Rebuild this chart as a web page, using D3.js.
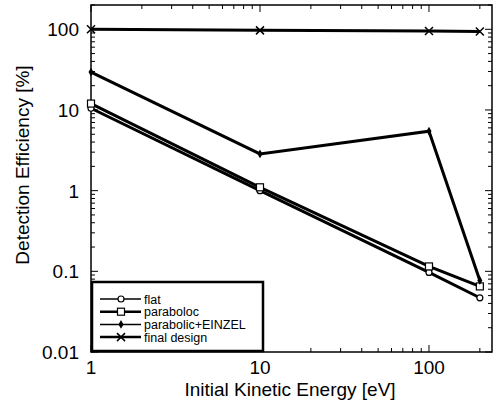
<!DOCTYPE html>
<html>
<head>
<meta charset="utf-8">
<script src="https://cdn.jsdelivr.net/npm/d3@7"></script>
<style>
  body { margin: 0; background: #fff; }
  text { font-family: "Liberation Sans", Arial, sans-serif; fill: #000; }
</style>
</head>
<body>
<div id="chart"></div>
<script>
// chart data
var energies = [1, 10, 100, 200];
var flat = [10.5, 1.0, 0.097, 0.047];
var paraboloc = [12.0, 1.1, 0.115, 0.065];
var einzel = [29.5, 2.85, 5.45, 0.077];
var finalDesign = [100, 97, 95, 94];
var seriesNames = ["flat", "paraboloc", "parabolic+EINZEL", "final design"];
var yTicks = [0.01, 0.1, 1, 10, 100];
var xTicks = [1, 10, 100];

var WIDTH = 498, HEIGHT = 403;
var margin = {left: 91, right: 6, top: 5, bottom: 51};

var svg = d3.select("#chart").append("svg")
    .attr("width", WIDTH)
    .attr("height", HEIGHT);

var x = d3.scaleLog().domain([1, 236]).range([margin.left, WIDTH - margin.right]);
var y = d3.scaleLog().domain([0.01, 200]).range([HEIGHT - margin.bottom, margin.top]);

var x0 = margin.left, x1 = WIDTH - margin.right;
var y0 = HEIGHT - margin.bottom, y1 = margin.top;

// minor ticks for log axes
var xMinor = [], yMinor = [];
[1, 10, 100].forEach(function (d) {
    for (var k = 2; k <= 9; k++) if (d * k <= 236) xMinor.push(d * k);
});
[0.01, 0.1, 1, 10, 100].forEach(function (d) {
    for (var k = 2; k <= 9; k++) if (d * k <= 200) yMinor.push(d * k);
});

// all ticks point inward, on all four sides
var axes = svg.append("g").attr("stroke", "#000").attr("stroke-width", 1);
xTicks.forEach(function (d) {
    axes.append("line").attr("x1", x(d)).attr("x2", x(d)).attr("y1", y0).attr("y2", y0 - 7);
    axes.append("line").attr("x1", x(d)).attr("x2", x(d)).attr("y1", y1).attr("y2", y1 + 7);
});
xMinor.forEach(function (d) {
    axes.append("line").attr("x1", x(d)).attr("x2", x(d)).attr("y1", y0).attr("y2", y0 - 4);
    axes.append("line").attr("x1", x(d)).attr("x2", x(d)).attr("y1", y1).attr("y2", y1 + 4);
});
yTicks.forEach(function (d) {
    axes.append("line").attr("x1", x0).attr("x2", x0 + 7).attr("y1", y(d)).attr("y2", y(d));
    axes.append("line").attr("x1", x1).attr("x2", x1 - 7).attr("y1", y(d)).attr("y2", y(d));
});
yMinor.forEach(function (d) {
    axes.append("line").attr("x1", x0).attr("x2", x0 + 4).attr("y1", y(d)).attr("y2", y(d));
    axes.append("line").attr("x1", x1).attr("x2", x1 - 4).attr("y1", y(d)).attr("y2", y(d));
});

// frame
svg.append("rect")
    .attr("x", x0).attr("y", y1)
    .attr("width", x1 - x0).attr("height", y0 - y1)
    .attr("fill", "none").attr("stroke", "#000").attr("stroke-width", 1.5);

// tick labels
svg.selectAll(".xlab").data(xTicks).enter().append("text")
    .attr("x", function (d) { return x(d); })
    .attr("y", y0 + 22)
    .attr("text-anchor", "middle")
    .attr("font-size", 19)
    .text(function (d) { return d; });

svg.selectAll(".ylab").data(yTicks).enter().append("text")
    .attr("x", x0 - 12)
    .attr("y", function (d) { return y(d) + 7; })
    .attr("text-anchor", "end")
    .attr("font-size", 19)
    .text(function (d) { return d; });

// axis titles
svg.append("text")
    .attr("x", 290).attr("y", 396)
    .attr("text-anchor", "middle")
    .attr("font-size", 19)
    .text("Initial Kinetic Energy [eV]");

svg.append("text")
    .attr("transform", "translate(29,165) rotate(-90)")
    .attr("text-anchor", "middle")
    .attr("font-size", 19)
    .text("Detection Efficiency [%]");

// series
var allSeries = [flat, paraboloc, einzel, finalDesign];
var line = d3.line()
    .x(function (d, i) { return x(energies[i]); })
    .y(function (d) { return y(d); });

var drawMarker = function (g, kind, cx, cy) {
    if (kind === 0) {
        g.append("circle").attr("cx", cx).attr("cy", cy).attr("r", 3)
            .attr("fill", "#fff").attr("stroke", "#000").attr("stroke-width", 1.2);
    } else if (kind === 1) {
        g.append("rect").attr("x", cx - 3.5).attr("y", cy - 3.5).attr("width", 7).attr("height", 7)
            .attr("fill", "#fff").attr("stroke", "#000").attr("stroke-width", 1.2);
    } else if (kind === 2) {
        g.append("path").attr("d", d3.symbol().type(d3.symbolDiamond).size(22)())
            .attr("transform", "translate(" + cx + "," + cy + ")")
            .attr("fill", "#000");
    } else {
        g.append("path")
            .attr("d", "M" + (cx - 4) + "," + (cy - 4) + "L" + (cx + 4) + "," + (cy + 4) +
                       "M" + (cx - 4) + "," + (cy + 4) + "L" + (cx + 4) + "," + (cy - 4))
            .attr("stroke", "#000").attr("stroke-width", 1.5);
    }
};

var plot = svg.append("g");
allSeries.forEach(function (vals, s) {
    plot.append("path")
        .datum(vals)
        .attr("d", line)
        .attr("fill", "none")
        .attr("stroke", "#000")
        .attr("stroke-width", 3);
});
allSeries.forEach(function (vals, s) {
    vals.forEach(function (v, i) {
        drawMarker(plot, s, x(energies[i]), y(v));
    });
});

// legend box
var legend = svg.append("g");
legend.append("rect")
    .attr("x", x0 + 1).attr("y", 282)
    .attr("width", 171).attr("height", y0 - 282 - 1)
    .attr("fill", "#fff").attr("stroke", "#000").attr("stroke-width", 2.5);

seriesNames.forEach(function (name, i) {
    var ly = 299 + i * 12.7;
    legend.append("line")
        .attr("x1", 100).attr("x2", 141).attr("y1", ly).attr("y2", ly)
        .attr("stroke", "#000").attr("stroke-width", i === 0 || i === 2 ? 1.5 : 2.5);
    drawMarker(legend, i, 121, ly);
    legend.append("text")
        .attr("x", 144).attr("y", ly + 4.5)
        .attr("font-size", 12.5)
        .text(name);
});
</script>
</body>
</html>
